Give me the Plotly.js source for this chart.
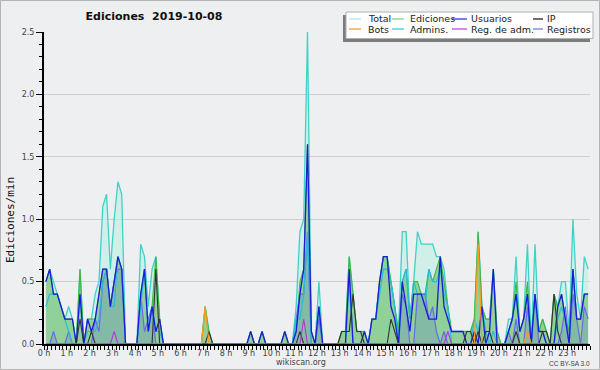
<!DOCTYPE html>
<html><head><meta charset="utf-8">
<script src="https://cdn.plot.ly/plotly-3.0.1.min.js"></script>
<style>html,body{margin:0;padding:0;background:#eeeff0}</style>
</head><body><div id="chart" style="width:600px;height:370px"></div>
<script>
// 10-minute bins, 0h..23h50 (values = edits per minute)
const hourLabels = ['0 h','1 h','2 h','3 h','4 h','5 h','6 h','7 h','8 h','9 h','10 h','11 h','12 h','13 h','14 h','15 h','16 h','17 h','18 h','19 h','20 h','21 h','22 h','23 h'];
const total = [
 0.5,0.6,0.5,0.4,0.3,0.2,  0.3,0.2,0,0.6,0,0.2,  0.2,0.4,0.5,1.1,1.2,0.6,  1.0,1.3,1.2,0,0,0,
 0,0.8,0.7,0.3,0.6,0.7,  0.2,0,0,0,0,0,  0,0,0,0,0,0,  0.3,0.1,0,0,0,0,
 0,0,0,0,0,0,  0.1,0,0,0.1,0,0,  0,0,0,0.1,0,0,  0.3,0.9,1.0,2.5,0.1,0,
 0.5,0,0,0,0,0,  0.1,0.1,0.7,0.4,0.1,0.1,  0.1,0,0.2,0.2,0.5,0.7,  0.7,0.5,0.3,0.1,0.9,0.9,
 0.2,0.5,0.9,0.8,0.8,0.8,  0.8,0.7,0.7,0.6,0.3,0.1,  0.1,0.1,0.1,0.1,0.1,0.2,  0.9,0.3,0.2,0.2,0.6,0.1,
 0,0,0.2,0.2,0.7,0.1,  0.2,0.8,0,0.8,0.1,0.2,  0.1,0,0.4,0.3,0.5,0.5,  0.1,1.0,0.4,0.2,0.7,0.6];
const ediciones = [
 0.5,0.6,0.4,0.4,0.3,0.2,  0.2,0.2,0,0.6,0,0.2,  0.2,0.2,0.4,0.6,0.6,0.3,  0.5,0.7,0.6,0,0,0,
 0,0.4,0.6,0.1,0.3,0.7,  0.2,0,0,0,0,0,  0,0,0,0,0,0,  0.3,0.1,0,0,0,0,
 0,0,0,0,0,0,  0.1,0,0,0.1,0,0,  0,0,0,0.1,0,0,  0.1,0.5,0.6,1.6,0.1,0,
 0.3,0,0,0,0,0,  0.1,0.1,0.7,0.4,0.1,0.1,  0.1,0,0.2,0.2,0.5,0.7,  0.7,0.5,0.3,0.1,0.5,0.6,
 0.2,0.5,0.5,0.4,0.4,0.6,  0.5,0.6,0.7,0.5,0.3,0.1,  0.1,0.1,0.1,0.1,0.1,0.2,  0.9,0.3,0.2,0.2,0.6,0.1,
 0,0,0.1,0.2,0.5,0.1,  0.2,0.5,0,0.4,0.1,0.2,  0.1,0,0.4,0.3,0.4,0.2,  0.1,0.6,0.2,0.2,0.4,0.4];
const usuarios = [
 0.5,0.6,0.4,0.4,0.3,0.2,  0.2,0.2,0,0.4,0,0.2,  0.1,0.2,0.4,0.6,0.6,0.3,  0.5,0.7,0.6,0,0,0,
 0,0.4,0.6,0.1,0.3,0.1,  0.2,0,0,0,0,0,  0,0,0,0,0,0,  0,0,0,0,0,0,
 0,0,0,0,0,0,  0.1,0,0,0.1,0,0,  0,0,0,0.1,0,0,  0.1,0.4,0.6,1.6,0.1,0,
 0.3,0,0,0,0,0,  0,0,0.6,0,0,0,  0.1,0,0.2,0.2,0.5,0.7,  0.7,0.3,0.2,0,0.5,0.3,
 0.1,0.4,0.4,0.4,0.3,0.2,  0.2,0.2,0.7,0.3,0.2,0.1,  0.1,0.1,0.1,0,0,0.1,  0,0.3,0,0.1,0.6,0,
 0,0,0.1,0.2,0.4,0.1,  0.2,0.4,0,0.4,0.1,0.1,  0,0,0,0.3,0.4,0.2,  0,0.6,0.2,0.2,0.4,0.4];
const ip = [
 0,0,0,0,0,0,  0,0,0,0.2,0,0,  0.1,0,0,0,0,0,  0,0,0,0,0,0,
 0,0,0,0,0,0.6,  0,0,0,0,0,0,  0,0,0,0,0,0,  0,0.1,0,0,0,0,
 0,0,0,0,0,0,  0,0,0,0,0,0,  0,0,0,0,0,0,  0,0.1,0,0,0,0,
 0,0,0,0,0,0,  0.1,0.1,0.1,0.4,0.1,0.1,  0,0,0,0,0,0,  0,0.2,0.1,0,0,0,
 0,0,0,0,0,0,  0,0,0,0,0,0,  0,0,0,0.1,0.1,0,  0.1,0,0.1,0.1,0,0,
 0,0,0,0,0.1,0,  0,0,0,0,0,0.1,  0.1,0,0.4,0.1,0,0,  0,0,0,0,0,0];
const bots = [
 0,0,0,0,0,0,  0,0,0,0,0,0,  0,0,0,0,0,0,  0,0,0,0,0,0,
 0,0,0,0,0,0,  0,0,0,0,0,0,  0,0,0,0,0,0,  0.3,0,0,0,0,0,
 0,0,0,0,0,0,  0,0,0,0,0,0,  0,0,0,0,0,0,  0,0,0,0,0,0,
 0,0,0,0,0,0,  0,0,0,0,0,0,  0,0,0,0,0,0,  0,0,0,0,0,0,
 0,0,0,0,0,0,  0,0,0,0,0,0,  0,0,0,0,0,0,  0.8,0,0,0,0,0,
 0,0,0,0,0,0,  0,0.1,0,0,0,0,  0,0,0,0,0,0,  0,0,0,0,0,0];
const admins = [
 0.3,0.4,0.4,0.4,0.3,0.2,  0.1,0,0,0.4,0,0.1,  0.1,0.1,0.2,0.5,0.6,0.3,  0.3,0.7,0.6,0,0,0,
 0,0.3,0.6,0.1,0.3,0.1,  0.1,0,0,0,0,0,  0,0,0,0,0,0,  0,0,0,0,0,0,
 0,0,0,0,0,0,  0,0,0,0,0,0,  0,0,0,0,0,0,  0.2,0.2,0.4,0.9,0,0,
 0.3,0,0,0,0,0,  0,0,0.5,0,0,0,  0,0,0.2,0.2,0.4,0.6,  0.6,0.5,0.3,0,0.5,0.6,
 0.2,0.5,0.4,0.4,0.3,0.6,  0.5,0.5,0.6,0.4,0.3,0,  0,0,0,0,0,0.2,  0.1,0.3,0.1,0,0.1,0,
 0,0,0.1,0.2,0.4,0.1,  0.2,0.4,0,0.4,0.1,0.1,  0,0,0,0.2,0.3,0.2,  0,0.6,0.2,0.2,0.4,0.4];
const regAdm = [
 0,0,0,0,0,0,  0,0,0,0,0,0,  0,0,0,0,0,0,  0.1,0,0,0,0,0,
 0,0,0,0,0,0,  0,0,0,0,0,0,  0,0,0,0,0,0,  0,0,0,0,0,0,
 0,0,0,0,0,0,  0,0,0,0,0,0,  0,0,0,0,0,0,  0,0,0.2,0,0,0,
 0,0,0,0,0,0,  0,0,0,0,0,0,  0,0,0,0,0,0,  0,0,0,0,0,0,
 0,0,0,0,0,0,  0,0,0,0,0.1,0,  0,0,0,0,0,0,  0,0,0,0,0,0,
 0,0,0,0,0,0,  0,0,0,0,0,0,  0,0,0,0,0,0,  0,0,0,0,0,0];
const registros = [
 0,0,0.1,0,0,0,  0.1,0,0,0,0,0,  0,0.2,0.1,0.5,0.6,0.3,  0.5,0.6,0.6,0,0,0,
 0,0.4,0.1,0.2,0.3,0,  0,0,0,0,0,0,  0,0,0,0,0,0,  0,0,0,0,0,0,
 0,0,0,0,0,0,  0,0,0,0,0,0,  0,0,0,0,0,0,  0.2,0.4,0.4,0.9,0,0,
 0.2,0,0,0,0,0,  0,0,0,0,0,0,  0,0,0,0,0,0,  0,0,0,0,0.4,0.3,
 0,0,0.4,0.4,0.4,0.2,  0.3,0.1,0,0.1,0,0,  0,0,0,0,0,0,  0,0,0,0,0,0,
 0,0,0.1,0,0.2,0,  0,0.3,0,0.4,0,0,  0,0,0,0,0.1,0.3,  0,0.4,0.2,0,0.3,0.2];

// bin centres in hours
const hours = total.map((_, i) => (i + 0.5) / 6);

function tr(name, y, color, width, fill) {
  const t = {type:'scatter', mode:'lines', name:name, x:hours, y:y,
    line:{color:color, width:width}, showlegend:false, hoverinfo:'skip'};
  if (fill) { t.fill = 'tozeroy'; t.fillcolor = fill; }
  return t;
}
const data = [
  tr('Total', total, '#3fd2c6', 1.3, 'rgba(190,238,228,0.6)'),
  tr('Ediciones', ediciones, '#3fb83f', 1.1, 'rgba(100,186,100,0.6)'),
  tr('Registros', registros, '#6a6aea', 1.2, 'rgba(80,100,220,0.2)'),
  tr('Admins.', admins, '#2bb9dc', 1.2),
  tr('Usuarios', usuarios, '#1c1cd8', 1.3),
  tr('IP', ip, '#333333', 1.1),
  tr('Bots', bots, '#ff9a1a', 1.2),
  tr('Reg. de adm.', regAdm, '#bb33dd', 1.1)
];

// pixel -> paper helpers (plot area 44..590 x 32..344)
const PX = x => (x - 44) / 546, PY = y => (344 - y) / 312;

const legendItems = [
  ['Total', '#a9e9e3', 349, 361, 366, 19], ['Bots', '#ff9933', 349, 361, 366, 29],
  ['Ediciones', '#88cc88', 392, 404, 408, 19], ['Admins.', '#33ccdd', 392, 404, 408, 29],
  ['Usuarios', '#3333dd', 452, 467, 469, 19], ['Reg. de adm.', '#cc44dd', 452, 467, 469, 29],
  ['IP', '#222222', 533, 543, 545, 19], ['Registros', '#7777ee', 533, 543, 545, 29]
];

const shapes = [
  {type:'rect', xref:'paper', yref:'paper', x0:PX(0.5), x1:PX(599.5), y0:PY(0.5), y1:PY(369.5), line:{color:'#b4b4b4', width:1}, layer:'below'},
  {type:'rect', xref:'paper', yref:'paper', x0:PX(343), x1:PX(590), y0:PY(15), y1:PY(42), fillcolor:'#7c7c7c', line:{width:0}, layer:'above'},
  {type:'rect', xref:'paper', yref:'paper', x0:PX(346), x1:PX(593), y0:PY(12), y1:PY(38.5), fillcolor:'#ffffff', line:{color:'#b0b0b0', width:1}, layer:'above'}
];
const annotations = [
  {text:'Ediciones/min', xref:'paper', yref:'paper', x:PX(10), y:PY(220), textangle:-90, showarrow:false,
   font:{family:'DejaVu Sans Mono', size:11, color:'#111'}, xanchor:'center', yanchor:'middle'},
  {text:'wikiscan.org', xref:'paper', yref:'paper', x:PX(301), y:PY(362), showarrow:false,
   font:{family:'DejaVu Sans', size:8, color:'#444'}, xanchor:'center', yanchor:'middle'},
  {text:'CC BY-SA 3.0', xref:'paper', yref:'paper', x:PX(569), y:PY(363), showarrow:false,
   font:{family:'Liberation Sans', size:6.5, color:'#444'}, xanchor:'center', yanchor:'middle'}
];
legendItems.forEach(([name, col, s0, s1, tx, ty]) => {
  shapes.push({type:'line', xref:'paper', yref:'paper', x0:PX(s0), x1:PX(s1), y0:PY(ty), y1:PY(ty), line:{color:col, width:1.3}, layer:'above'});
  annotations.push({text:name, xref:'paper', yref:'paper', x:PX(tx), y:PY(ty), showarrow:false,
    xanchor:'left', yanchor:'middle', font:{family:'DejaVu Sans', size:9.5, color:'#222'}});
});

const layout = {
  width:600, height:370, margin:{l:44, r:10, t:32, b:26},
  paper_bgcolor:'#eeeff0', plot_bgcolor:'#eeeff0',
  font:{family:'DejaVu Sans', size:8, color:'#444'},
  showlegend:false,
  title:{text:'Ediciones\u00a0\u00a02019-10-08', xref:'container', yref:'container', x:154/600, y:1-16.5/370,
    xanchor:'center', yanchor:'middle', font:{family:'DejaVu Sans', size:11, color:'#111', weight:'bold'}},
  xaxis:{range:[0,24], tickmode:'array', tickvals:hourLabels.map((_, h) => h), ticktext:hourLabels,
    ticks:'outside', ticklen:4, tickwidth:1, tickcolor:'#000', showline:true, linecolor:'#000', linewidth:2,
    showgrid:false, zeroline:false, tickfont:{size:8, color:'#444'}, ticklabelstandoff:-4,
    minor:{dtick:1/6, tick0:0, ticks:'outside', ticklen:4, tickwidth:1, tickcolor:'#000', showgrid:false}},
  yaxis:{range:[0,2.5], tickmode:'linear', tick0:0, dtick:0.5, tickformat:'.1f', ticks:'outside', ticklen:6,
    tickcolor:'#000', showline:true, linecolor:'#000', linewidth:2, gridcolor:'#cfcfcf', gridwidth:1,
    zeroline:false, tickfont:{size:8, color:'#444'},
    minor:{dtick:0.1, tick0:0, ticks:'outside', ticklen:3, tickcolor:'#000', showgrid:false}},
  shapes:shapes, annotations:annotations
};
Plotly.newPlot('chart', data, layout, {staticPlot:true});
</script></body></html>
